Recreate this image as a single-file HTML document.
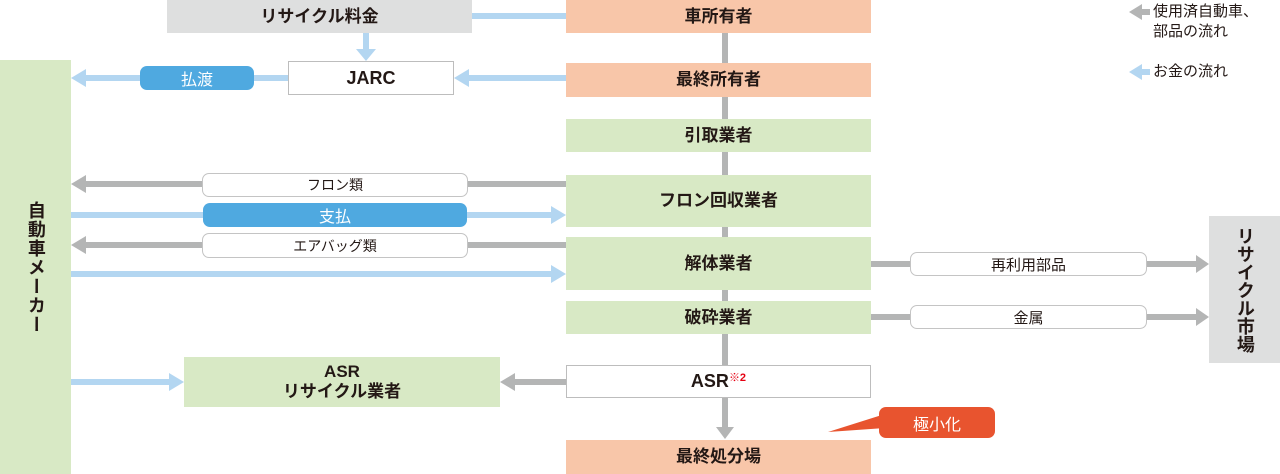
<!DOCTYPE html>
<html><head><meta charset="utf-8"><style>
body{margin:0;width:1280px;height:474px;position:relative;overflow:hidden;background:#fff;font-family:"Liberation Sans","Noto Sans CJK JP",sans-serif;color:#231815}
.b{position:absolute;display:flex;align-items:center;justify-content:center;font-size:17px;font-weight:bold;box-sizing:border-box;text-align:center;line-height:1.15}
.o{background:#f8c6a9}.g{background:#d8e9c5}.gr{background:#dedfdf}
.w{background:#fff;border:1.5px solid #bdbdbd}
.p{position:absolute;display:flex;align-items:center;justify-content:center;font-size:14px;box-sizing:border-box;border-radius:7px}
.pw{background:#fff;border:1.5px solid #c4c4c4}
.pb{background:#4fa9e0;color:#fff;font-size:16px}
svg{position:absolute;left:0;top:0}
</style></head><body>
<svg width="1280" height="474">
<g fill="#b4b5b5" stroke="none">
<rect x="722" y="33" width="6" height="395"/>
<polygon points="716,427 734,427 725,439"/>
<rect x="82" y="181" width="484" height="6"/><polygon points="71,184 86,175 86,193"/>
<rect x="82" y="242" width="484" height="6"/><polygon points="71,245 86,236 86,254"/>
<rect x="511" y="379" width="55" height="6"/><polygon points="500,382 515,373 515,391"/>
<rect x="871" y="261" width="328" height="6"/><polygon points="1209,264 1196,255 1196,273"/>
<rect x="871" y="314" width="328" height="6"/><polygon points="1209,317 1196,308 1196,326"/>
<rect x="1140" y="9" width="10" height="6"/><polygon points="1129,12 1142,4 1142,20"/>
</g>
<g fill="#b3d6f1">
<rect x="472" y="13" width="94" height="6"/>
<rect x="363" y="33" width="6" height="18"/><polygon points="356,49 376,49 366,61"/>
<rect x="82" y="75" width="206" height="6"/><polygon points="71,78 86,69 86,87"/>
<rect x="465" y="75" width="101" height="6"/><polygon points="454,78 469,69 469,87"/>
<rect x="71" y="212" width="485" height="6"/><polygon points="566,215 551,206 551,224"/>
<rect x="71" y="271" width="485" height="6"/><polygon points="566,274 551,265 551,283"/>
<rect x="71" y="379" width="103" height="6"/><polygon points="184,382 169,373 169,391"/>
<rect x="1140" y="69" width="10" height="6"/><polygon points="1129,72 1142,64 1142,80"/>
</g>
<polygon points="828,432 885,414 885,428" fill="#e8542f"/>
</svg>
<div class="b gr" style="left:167px;top:0;width:305px;height:33px">リサイクル料金</div>
<div class="b w" style="left:288px;top:61px;width:166px;height:34px;font-size:18px">JARC</div>
<div class="p pb" style="left:140px;top:66px;width:114px;height:24px">払渡</div>
<div class="b g" style="left:0;top:60px;width:71px;height:414px;writing-mode:vertical-rl;font-size:18px;letter-spacing:1px">自動車メーカー</div>
<div class="b o" style="left:566px;top:0;width:305px;height:33px">車所有者</div>
<div class="b o" style="left:566px;top:63px;width:305px;height:34px">最終所有者</div>
<div class="b g" style="left:566px;top:119px;width:305px;height:33px">引取業者</div>
<div class="b g" style="left:566px;top:175px;width:305px;height:52px">フロン回収業者</div>
<div class="b g" style="left:566px;top:237px;width:305px;height:53px">解体業者</div>
<div class="b g" style="left:566px;top:301px;width:305px;height:33px">破砕業者</div>
<div class="b w" style="left:566px;top:365px;width:305px;height:33px;font-size:18px">ASR<sup style="color:#e60012;font-size:11px;position:relative;top:-3px">※2</sup></div>
<div class="b o" style="left:566px;top:440px;width:305px;height:34px">最終処分場</div>
<div class="b g" style="left:184px;top:357px;width:316px;height:50px">ASR<br>リサイクル業者</div>
<div class="p pw" style="left:202px;top:173px;width:266px;height:24px">フロン類</div>
<div class="p pb" style="left:203px;top:203px;width:264px;height:24px">支払</div>
<div class="p pw" style="left:202px;top:233px;width:266px;height:25px">エアバッグ類</div>
<div class="p pw" style="left:910px;top:252px;width:237px;height:24px;font-size:15px">再利用部品</div>
<div class="p pw" style="left:910px;top:305px;width:237px;height:24px;font-size:15px">金属</div>
<div class="b gr" style="left:1209px;top:216px;width:71px;height:147px;writing-mode:vertical-rl;font-size:18px">リサイクル市場</div>
<div class="p" style="left:879px;top:407px;width:116px;height:31px;background:#e8542f;color:#fff;font-size:16px">極小化</div>
<div style="position:absolute;left:1153px;top:2px;font-size:15px;line-height:20px">使用済自動車、<br>部品の流れ</div>
<div style="position:absolute;left:1153px;top:62px;font-size:15px;line-height:20px">お金の流れ</div>
</body></html>
